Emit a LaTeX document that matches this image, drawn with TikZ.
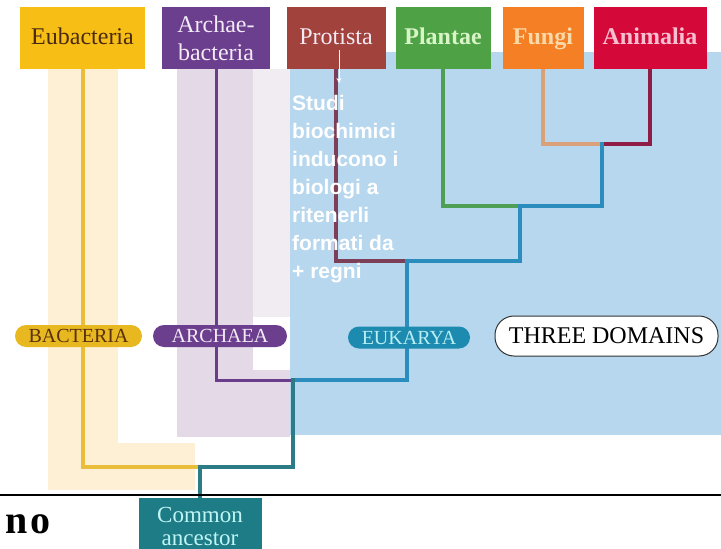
\documentclass[tikz,border=0pt]{standalone}
\usepackage{fontspec}
\setmainfont{Liberation Serif}
\newfontfamily\annfont{Liberation Sans}
\usetikzlibrary{arrows.meta}
\pgfdeclarelayer{bgl}
\pgfdeclarelayer{linel}
\pgfsetlayers{bgl,linel,main}
\definecolor{eubcol}{HTML}{F7BE16}
\definecolor{arccol}{HTML}{6B3E8E}
\definecolor{procol}{HTML}{A2423D}
\definecolor{placol}{HTML}{4EA145}
\definecolor{funcol}{HTML}{F47F24}
\definecolor{anicol}{HTML}{D4093A}
\definecolor{bluebg}{HTML}{B7D7EE}
\definecolor{lavbg}{HTML}{E3D9E7}
\definecolor{lavlight}{HTML}{F1ECF2}
\definecolor{yelbg}{HTML}{FDF0D5}
\definecolor{anccol}{HTML}{1E7C86}
\definecolor{eubline}{HTML}{E9BE3A}
\definecolor{arcline}{HTML}{6A3D8A}
\definecolor{proline}{HTML}{7D3E58}
\definecolor{plaline}{HTML}{4E9E55}
\definecolor{funline}{HTML}{D9A07A}
\definecolor{aniline}{HTML}{8E1C45}
\definecolor{eukline}{HTML}{2A8DBE}
\definecolor{rootline}{HTML}{2B7C86}
\definecolor{bactpill}{HTML}{E8B820}
\definecolor{eukpill}{HTML}{1D8AB0}
\definecolor{eubtext}{HTML}{4A2A10}
\definecolor{platext}{HTML}{D8F5C8}
\definecolor{funtext}{HTML}{FAD9A8}
\definecolor{anitext}{HTML}{F7BFD0}
\definecolor{bacttext}{HTML}{5A3010}
\definecolor{euktext}{HTML}{B8EEF5}
\definecolor{anctext}{HTML}{C0F5F5}
\definecolor{lighttext}{HTML}{F2EAF5}
\begin{document}
\begin{tikzpicture}[x=1pt,y=-1pt,
  topbox/.style={rectangle, minimum height=62pt, inner sep=0pt, align=center,
    font=\fontsize{24}{28}\selectfont},
  onebox/.style={topbox, text height=17pt, text depth=4pt},
  boldbox/.style={onebox, font=\fontsize{24}{28}\selectfont\bfseries},
  pill/.style={rectangle, rounded corners=11pt, minimum height=22pt, inner sep=0pt,
    font=\fontsize{20}{22}\selectfont, text height=13.5pt, text depth=0pt},
  branch/.style={line width=4pt, line cap=rect}]
\clip (0,0) rectangle (721,549);
% background bands
\begin{pgfonlayer}{bgl}
\fill[white] (0,0) rectangle (721,549);
\fill[bluebg] (290,52) rectangle (721,435);
\fill[lavlight] (177,69) rectangle (290,437);
\fill[white] (253,317) rectangle (290,370);
\fill[lavbg] (177,69) rectangle (253,437);
\fill[lavbg] (177,370) rectangle (290,437);
\fill[yelbg] (48,69) rectangle (118,490);
\fill[yelbg] (48,443) rectangle (195,490);
\end{pgfonlayer}
% top boxes
\node[onebox, fill=eubcol, minimum width=125pt, text=eubtext] (eub) at (82.5,38) {Eubacteria};
\node[topbox, fill=arccol, minimum width=108pt, text=lighttext] (arc) at (216,38) {Archae-\\bacteria};
\node[onebox, fill=procol, minimum width=99pt, text=lighttext] (pro) at (336,38) {Protista};
\node[boldbox, fill=placol, minimum width=95pt, text=platext] (pla) at (443,38) {Plantae};
\node[boldbox, fill=funcol, minimum width=81pt, text=funtext] (fun) at (543,38) {Fungi};
\node[boldbox, fill=anicol, minimum width=113pt, text=anitext] (ani) at (650,38) {Animalia};
% junctions
\coordinate (jFA) at (602,144);
\coordinate (jPl) at (520,206);
\coordinate (jPr) at (407,261);
\coordinate (jAr) at (293,380);
\coordinate (jEu) at (200,467);
% common ancestor box
\node[rectangle, fill=anccol, minimum width=123pt, minimum height=70pt, inner sep=0pt, anchor=north] (anc) at (200,498) {};
\node[anchor=base, text=anctext, font=\fontsize{23}{27}\selectfont, inner sep=0pt] (anct1) at (200,522) {Common};
\node[anchor=base, text=anctext, font=\fontsize{23}{27}\selectfont, inner sep=0pt] (anct2) at (200,545) {ancestor};
% branches
\begin{pgfonlayer}{linel}
\draw[branch, eubline] (eub.south) |- (jEu);
\draw[branch, arcline, line width=3pt] (arc.south) |- (jAr);
\draw[branch, proline] (pro.south) |- (jPr);
\draw[branch, plaline] (pla.south) |- (jPl);
\draw[branch, funline] (fun.south) |- (jFA);
\draw[branch, aniline] (ani.south) |- (jFA);
\draw[branch, eukline] (jFA) |- (jPl) |- (jPr) |- (jAr);
\draw[branch, rootline] (jAr) |- (jEu) -- (anc.north);
\end{pgfonlayer}
% annotation
\coordinate (arrS) at (339,50);
\coordinate (arrE) at (339,83);
\draw[white, line width=1pt, -{Stealth[length=5pt,width=5pt]}] (arrS) -- (arrE);
\node[anchor=north west, inner sep=0pt, align=left, text=white,
  font=\annfont\bfseries\fontsize{21}{28}\selectfont] (note) at (292,95.5)
  {Studi\\biochimici\\inducono i\\biologi a\\ritenerli\\formati da\\+ regni};
% domain pills
\node[pill, fill=bactpill, minimum width=127pt, text=bacttext] (bact) at (78.5,336) {BACTERIA};
\node[pill, fill=arccol, minimum width=134pt, text=lighttext] (arch) at (220,336) {ARCHAEA};
\node[pill, fill=eukpill, minimum width=122pt, text=euktext] (euk) at (409,337.5) {EUKARYA};
\node[rectangle, fill=white, draw=black!80, line width=1pt, rounded corners=19pt, minimum width=223pt, minimum height=40pt, inner sep=0pt, font=\fontsize{24}{26}\selectfont, text=black] (three) at (606.5,336) {THREE DOMAINS};
% rule and partial text
\coordinate (ruleL) at (0,495);
\coordinate (ruleR) at (721,495);
\draw[line width=2pt, black] (ruleL) -- (ruleR);
\node[anchor=base west, inner sep=0pt, font=\fontsize{40}{44}\selectfont\bfseries] (no) at (5,533) {n\hspace{3pt}o};
\end{tikzpicture}
\end{document}
